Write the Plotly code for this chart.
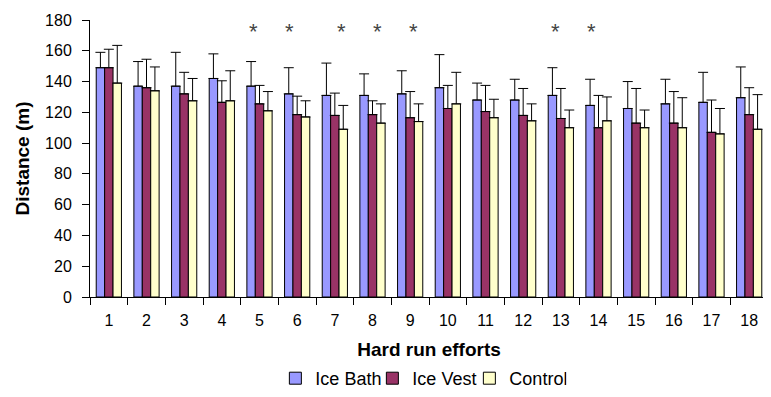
import plotly.graph_objects as go

efforts = [str(i) for i in range(1, 19)]

ice_bath = [149, 137, 137, 142, 137, 132, 131, 131, 132, 136, 128, 128, 131, 124.5, 122.5, 125.5, 126.5, 129.5]
ice_bath_sd = [10, 16, 22, 16, 16, 17, 21, 14, 15, 21.5, 11, 13.5, 18, 17, 17.5, 16, 19.5, 20]

ice_vest = [149, 136, 132, 126.5, 125.5, 118.5, 118, 118.5, 116.5, 122.5, 120.5, 118, 116, 110, 113, 113, 107, 118.5]
ice_vest_sd = [12, 18.5, 14, 14, 12, 12, 14.5, 9, 17, 15, 17, 17.5, 19.5, 21, 22.5, 20.5, 21, 17.5]

control = [139, 134, 127.5, 127.5, 121, 117, 109, 113, 114, 125.5, 116.5, 114.5, 110, 114.5, 110, 110, 106, 109]
control_sd = [24.5, 15.5, 14.5, 19.5, 12.5, 10.5, 15.5, 12.5, 11.5, 20.5, 12, 11, 11.5, 15.5, 11.5, 19.5, 16.5, 22.5]

significant = ["5", "6", "7", "8", "9", "13", "14"]
star_level = 172.5

series = [
    ("Ice Bath", ice_bath, ice_bath_sd, "#9999FF"),
    ("Ice Vest", ice_vest, ice_vest_sd, "#993366"),
    ("Control", control, control_sd, "#FFFFCC"),
]

fig = go.Figure()
for name, vals, sd, col in series:
    fig.add_trace(go.Bar(
        x=efforts, y=vals, name=name,
        marker=dict(color=col, line=dict(color="black", width=1)),
        error_y=dict(type="data", array=sd, arrayminus=[0] * len(sd), symmetric=False,
                     color="black", thickness=1, width=5),
    ))

# small manual nudges of the asterisks (pixels), as in the original figure
star_nudge = {"5": -6, "6": -8, "7": 7, "8": 5, "9": 3, "13": -5, "14": -7}
for c in significant:
    fig.add_annotation(x=efforts.index(c), y=star_level, text="*", showarrow=False,
                       xshift=star_nudge.get(c, 0),
                       font=dict(size=22, color="#444444", family="Liberation Sans"),
                       yanchor="middle")

fig.update_layout(
    width=763, height=389,
    margin=dict(l=82, r=3, t=12, b=100, autoexpand=False),
    paper_bgcolor="white", plot_bgcolor="white",
    barmode="group", bargap=0.33, bargroupgap=0,
    font=dict(family="Liberation Sans, Arial, sans-serif", size=16, color="black"),
    showlegend=True,
    legend=dict(orientation="h", x=0.488, xanchor="center", yref="container",
                y=-0.014, yanchor="bottom", borderwidth=0,
                font=dict(size=18), itemwidth=30, entrywidth=52, traceorder="normal"),
    xaxis=dict(
        type="category", automargin=False,
        showline=True, linecolor="black", linewidth=1,
        ticks="outside", tickson="boundaries", ticklen=7, tickcolor="black",
        ticklabelstandoff=9,
        showgrid=False,
        title=dict(text="<b>Hard run efforts</b>", font=dict(size=19), standoff=14),
    ),
    yaxis=dict(
        automargin=False,
        range=[0, 180], dtick=20, showline=True, linecolor="black", linewidth=1,
        ticks="outside", ticklen=7, tickcolor="black", showgrid=False, zeroline=False,
        ticklabelstandoff=7,
        title=dict(text="<b>Distance (m)</b>", font=dict(size=19), standoff=10),
    ),
)

fig.write_html("out.html")
